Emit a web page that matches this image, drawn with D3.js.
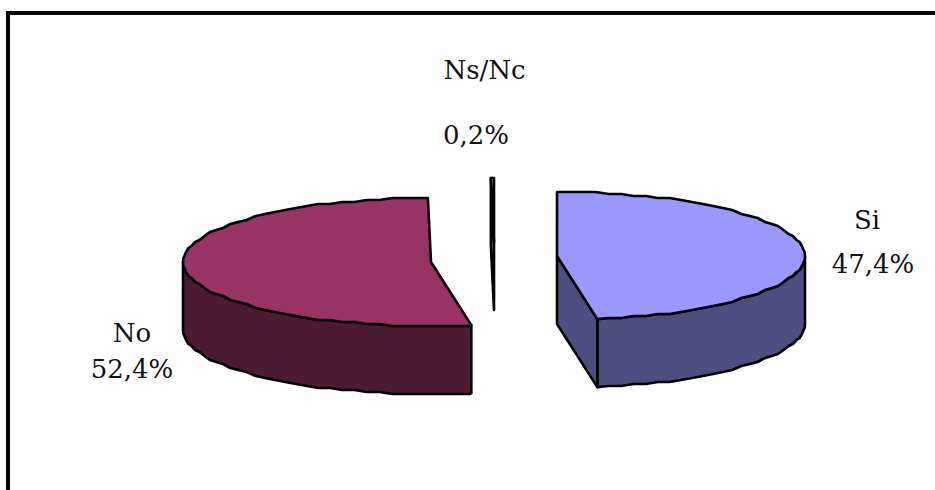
<!DOCTYPE html>
<html>
<head>
<meta charset="utf-8">
<script src="https://cdn.jsdelivr.net/npm/d3@7"></script>
<style>
html, body { margin: 0; padding: 0; background: #fff; }
svg { display: block; }
text { font-family: "DejaVu Serif", serif; font-size: 26px; fill: #111; }
</style>
</head>
<body>
<svg id="chart" width="935" height="490"></svg>
<script>
// Survey answers, clockwise from twelve o'clock
const categories = ["Si", "No", "Ns/Nc"];
const shares = [47.4, 52.4, 0.2];
const shareLabels = ["47,4%", "52,4%", "0,2%"];
const topColors = ["#9999ff", "#993366", "#ffffcc"];
const sideColors = ["#4d4d80", "#4d1a33", "#808066"];

// Exploded slice centres, in page pixels
const centerX = [557, 431, 494];
const centerY = [256, 262, 242];
const nameX = [867, 132, 484.5];
const valueX = [873, 132, 476];
const nameY = [229, 342, 79];
const valueY = [273, 378, 144];

const rx = 248, ry = 64, depth = 68;
const svg = d3.select("#chart");

// Page frame, open at the right and bottom edges
svg.append("path")
  .attr("d", "M8 490V13H935")
  .attr("fill", "none").attr("stroke", "#000").attr("stroke-width", 4);

const slices = d3.pie().sort(null).value(d => d)(shares);

// Rim points sit on a fixed angular grid and a coarse pixel grid, which gives the
// outline its faceted look; walls and faces share them, so their edges coincide
const step = Math.PI / 60;
const snap = v => Math.round(v / 2) * 2;
const exact = (i, a, dy) => [centerX[i] + rx * Math.sin(a), centerY[i] - ry * Math.cos(a) + dy];
const rimPoints = (i, a0, a1, dy) => {
  const inner = d3.range(Math.ceil(a0 / step + 1e-6), Math.floor(a1 / step - 1e-6) + 1).map(k => {
    const a = k * step;
    return [centerX[i] + rx * Math.sin(a), centerY[i] + snap(-ry * Math.cos(a)) + dy];
  });
  return [exact(i, a0, dy), ...inner, exact(i, a1, dy)];
};
const line = d3.line();
const draw = (pts, fill) => svg.append("path")
  .attr("d", line(pts) + "Z")
  .attr("fill", fill)
  .attr("stroke", "#000")
  .attr("stroke-width", 2.6)
  .attr("stroke-linejoin", "round");

slices.forEach((s, i) => {
  const a0 = s.startAngle, a1 = s.endAngle;
  const c = [centerX[i], centerY[i]];
  const cLow = [c[0], c[1] + depth];

  // Outer wall: the part of the rim facing the viewer (right to left across the bottom)
  const w0 = Math.max(a0, Math.PI / 2), w1 = Math.min(a1, 3 * Math.PI / 2);
  if (w1 > w0) {
    draw(rimPoints(i, w0, w1, 0).concat(rimPoints(i, w0, w1, depth).reverse()), sideColors[i]);
  }
  // Cut wall: visible when the slice's radial edge faces the viewer
  const a = a1 < Math.PI ? a1 : (a0 > Math.PI ? a0 : null);
  if (a !== null) {
    const p = exact(i, a, 0);
    draw([c, p, [p[0], p[1] + depth], cLow], sideColors[i]);
  }
  // Top face
  draw(rimPoints(i, a0, a1, 0).concat([c]), topColors[i]);
});

// Category name above its percentage
const labels = svg.append("g").attr("text-anchor", "middle");
categories.forEach((name, i) => {
  labels.append("text").attr("x", nameX[i]).attr("y", nameY[i]).text(name);
  labels.append("text").attr("x", valueX[i]).attr("y", valueY[i]).text(shareLabels[i]);
});
</script>
</body>
</html>
